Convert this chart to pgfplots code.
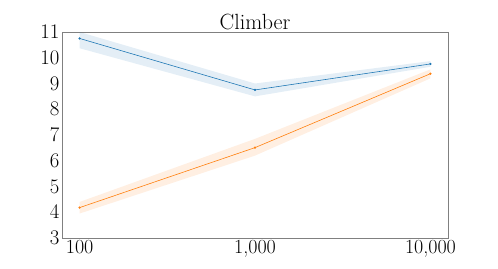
\documentclass[border=0pt]{standalone}
\usepackage{pgfplots}
\pgfplotsset{compat=1.18}
\usepgfplotslibrary{fillbetween}
\definecolor{tblue}{HTML}{1F77B4}
\definecolor{torange}{HTML}{FF7F0E}
\begin{document}
\begin{tikzpicture}
\path (-62pt,-30pt) rectangle (436pt,238pt);
\begin{axis}[
  scale only axis, width=386pt, height=206pt,
  xmode=log, log basis x=10,
  xmin=79.4, xmax=12590, ymin=3, ymax=11,
  xtick={100,1000,10000}, xticklabels={100,{1,000},{10,000}},
  ytick={3,4,5,6,7,8,9,10,11},
  tick style={draw=none},
  axis line style={draw=gray, line width=0.6pt},
  ticklabel style={font=\fontsize{20}{22}\selectfont},
  yticklabel style={xshift=1pt},
  xticklabel style={yshift=1pt},
  title={Climber}, title style={font=\fontsize{22}{24}\selectfont, yshift=-7pt},
]
\addplot[name path=bu, draw=none, forget plot] coordinates {(100,11.0) (1000,9.0) (10000,9.87)};
\addplot[name path=bl, draw=none, forget plot] coordinates {(100,10.37) (1000,8.5) (10000,9.65)};
\addplot[tblue, opacity=0.12, forget plot] fill between[of=bu and bl];
\addplot[name path=ou, draw=none, forget plot] coordinates {(100,4.4) (1000,6.85) (10000,9.55)};
\addplot[name path=ol, draw=none, forget plot] coordinates {(100,3.95) (1000,6.2) (10000,9.2)};
\addplot[torange, opacity=0.12, forget plot] fill between[of=ou and ol];
\addplot[tblue, line width=0.6pt, mark=*, mark size=0.8pt] coordinates {(100,10.75) (1000,8.75) (10000,9.76)};
\addplot[torange, line width=0.6pt, mark=*, mark size=0.8pt] coordinates {(100,4.18) (1000,6.51) (10000,9.38)};
\end{axis}
\end{tikzpicture}
\end{document}
